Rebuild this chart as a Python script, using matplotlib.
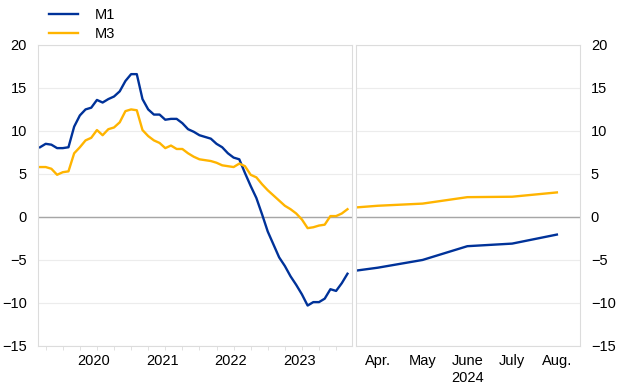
import numpy as np
import matplotlib
matplotlib.use("Agg")
import matplotlib.pyplot as plt

plt.rcParams["font.family"] = ["Liberation Sans", "DejaVu Sans"]

# Monthly annual growth rates, Sep 2019 - Mar 2024 (left panel)
m1_hist = [8.1, 8.5, 8.4, 8.0, 8.0, 8.1, 10.5, 11.8, 12.5, 12.7,
           13.6, 13.3, 13.7, 14.0, 14.6, 15.8, 16.6, 16.6, 13.7, 12.5,
           11.9, 11.9, 11.3, 11.4, 11.4, 10.9, 10.2, 9.9, 9.5, 9.3,
           9.1, 8.5, 8.1, 7.4, 6.9, 6.7, 5.1, 3.6, 2.2, 0.3,
           -1.7, -3.2, -4.7, -5.7, -6.9, -7.9, -9.0, -10.3, -9.9, -9.9,
           -9.5, -8.4, -8.6, -7.7, -6.6]
m3_hist = [5.8, 5.8, 5.6, 4.9, 5.2, 5.3, 7.4, 8.1, 8.9, 9.2,
           10.1, 9.5, 10.2, 10.4, 11.0, 12.3, 12.5, 12.4, 10.1, 9.4,
           8.9, 8.6, 8.0, 8.3, 7.9, 7.9, 7.4, 7.0, 6.7, 6.6,
           6.5, 6.3, 6.0, 5.9, 5.8, 6.2, 5.9, 4.9, 4.6, 3.8,
           3.1, 2.5, 1.9, 1.3, 0.9, 0.4, -0.3, -1.3, -1.2, -1.0,
           -0.9, 0.1, 0.1, 0.4, 0.9]
years = ["2020", "2021", "2022", "2023"]

# Right panel, Mar - Aug 2024
months = ["Mar.", "Apr.", "May", "June\n2024", "July", "Aug."]
m1_recent = [-6.6, -5.9, -5.0, -3.4, -3.1, -2.05]
m3_recent = [0.9, 1.3, 1.55, 2.3, 2.35, 2.85]

BLUE = "#003299"
YELLOW = "#FFB400"
FRAME = "#dcdcdc"
GRID = "#ececec"

fig = plt.figure(figsize=(6.2, 3.87), dpi=100)
ax1 = fig.add_axes([0.0613, 0.106, 0.5065, 0.778])
ax2 = fig.add_axes([0.574, 0.106, 0.361, 0.778])

x_hist = np.arange(len(m1_hist))
line_1, = ax1.plot(x_hist, m1_hist, color=BLUE, lw=1.7, label="M1")
line_2, = ax1.plot(x_hist, m3_hist, color=YELLOW, lw=1.7, label="M3")

x_rec = np.arange(len(months))
ax2.plot(x_rec, m1_recent, color=BLUE, lw=1.7)
ax2.plot(x_rec, m3_recent, color=YELLOW, lw=1.7)

for ax in (ax1, ax2):
    ax.set_ylim(-15, 20)
    ax.set_yticks(np.arange(-15, 21, 5))
    ax.grid(True, axis="y", color=GRID, lw=0.8)
    ax.axhline(0, color="#a6a6a6", lw=1.0, zorder=1)
    for s in ax.spines.values():
        s.set_color(FRAME)
        s.set_linewidth(0.8)
    ax.set_axisbelow(True)
    ax.tick_params(axis="both", labelsize=10.5, colors="black")

# left panel axes
ax1.set_xlim(-0.35, 54.8)
ax1.set_xticks([9.5 + 12 * i for i in range(len(years))])
ax1.set_xticklabels(years)
ax1.set_xticks(np.arange(1, 55, 3), minor=True)
ax1.tick_params(axis="x", which="major", length=0, pad=6)
ax1.tick_params(axis="x", which="minor", length=3, color=FRAME)
ax1.tick_params(axis="y", length=0, pad=8)

# right panel axes
ax2.set_xlim(0.51, 5.51)
ax2.set_xticks(x_rec[1:])
ax2.set_xticklabels(months[1:])
ax2.tick_params(axis="x", length=0, pad=6)
ax2.yaxis.tick_right()
ax2.tick_params(axis="y", length=0, pad=8)

fig.legend([line_1, line_2], ["M1", "M3"], loc="upper left",
           bbox_to_anchor=(0.058, 1.012), frameon=False, fontsize=10.5,
           handlelength=2.0, handletextpad=1.1, labelspacing=0.3)

plt.savefig("out.png", dpi=100)
plt.close()
